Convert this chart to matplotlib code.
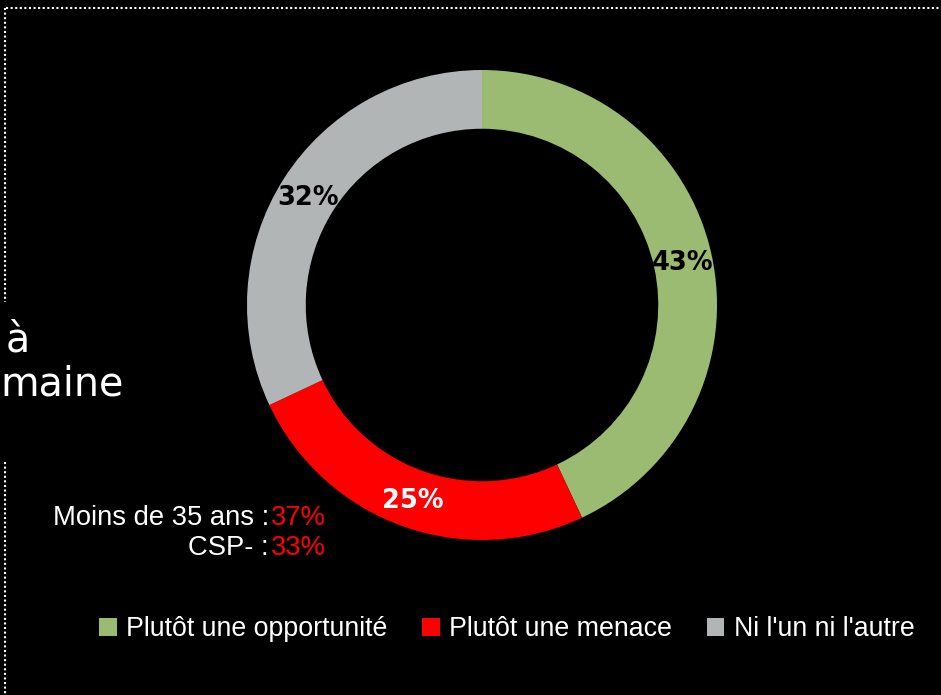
import matplotlib
matplotlib.use("Agg")
import matplotlib.pyplot as plt
from matplotlib.patches import Patch

categories = ["Plutôt une opportunité", "Plutôt une menace", "Ni l'un ni l'autre"]
values = [43, 25, 32]
colors = ["#9bbb72", "#ff0000", "#b2b5b6"]
label_colors = ["black", "white", "black"]
sub_labels = ["Moins de 35 ans :", "CSP- :"]
sub_values = ["37%", "33%"]

W, H = 941, 695
fig = plt.figure(figsize=(W / 100, H / 100), dpi=100, facecolor="black")

cx, cy, R = 482, 305, 235
ax = fig.add_axes([(cx - R) / W, 1 - (cy + R) / H, 2 * R / W, 2 * R / H])
ax.set_facecolor("black")
wedges, texts = ax.pie(values, colors=colors, startangle=90, counterclock=False,
                       radius=1.0, wedgeprops=dict(width=0.25, linewidth=0),
                       labels=[f"{v}%" for v in values], labeldistance=0.875,
                       textprops=dict(fontsize=18.5, fontweight="bold", ha="center", va="center",
                                      family="DejaVu Sans"))
for t, c in zip(texts, label_colors):
    t.set_color(c)
    t.set_ha("center")
    t.set_va("center_baseline")
ax.set_xlim(-1, 1)
ax.set_ylim(-1, 1)
ax.set_aspect("equal")
ax.axis("off")

# dotted frame
fig.add_artist(plt.Line2D([6 / W, 1], [1 - 8 / H, 1 - 8 / H], transform=fig.transFigure,
                          color="white", lw=1.5, ls=(0, (1, 1.2))))
fig.add_artist(plt.Line2D([5 / W, 5 / W], [1 - 8 / H, 1 - 302 / H], transform=fig.transFigure,
                          color="white", lw=1.5, ls=(0, (1, 1.2))))
fig.add_artist(plt.Line2D([5 / W, 5 / W], [1 - 462 / H, 0], transform=fig.transFigure,
                          color="white", lw=1.5, ls=(0, (1, 1.2))))

# partially visible title
fig.text(6 / W, 1 - 340 / H, "à", color="white", fontsize=28.5, va="center", ha="left",
         family="DejaVu Sans")
fig.text(0.5 / W, 1 - 385 / H, "maine", color="white", fontsize=28.5, va="center", ha="left",
         family="DejaVu Sans")

# sub-group notes
ys = [518, 548]
for lab, val, y in zip(sub_labels, sub_values, ys):
    tv = fig.text(326 / W, 1 - y / H, val, color="#ff0000", fontsize=19.7, ha="right",
                  va="center", family="Liberation Sans")
    fig.canvas.draw()
    bb = tv.get_window_extent()
    fig.text((bb.x0 - 2) / W, 1 - y / H, lab, color="white", fontsize=19.7, ha="right",
             va="center", family="Liberation Sans")

handles = [Patch(facecolor=c, edgecolor="none") for c in colors]
leg = fig.legend(handles, categories, loc="center", bbox_to_anchor=(507 / W, 1 - 629 / H),
                 ncol=3, frameon=False, handlelength=0.65, handleheight=0.65,
                 handletextpad=0.35, columnspacing=1.3,
                 prop=dict(family="Liberation Sans", size=19.3))
for t in leg.get_texts():
    t.set_color("white")

fig.savefig("out.png", dpi=100, facecolor="black")
